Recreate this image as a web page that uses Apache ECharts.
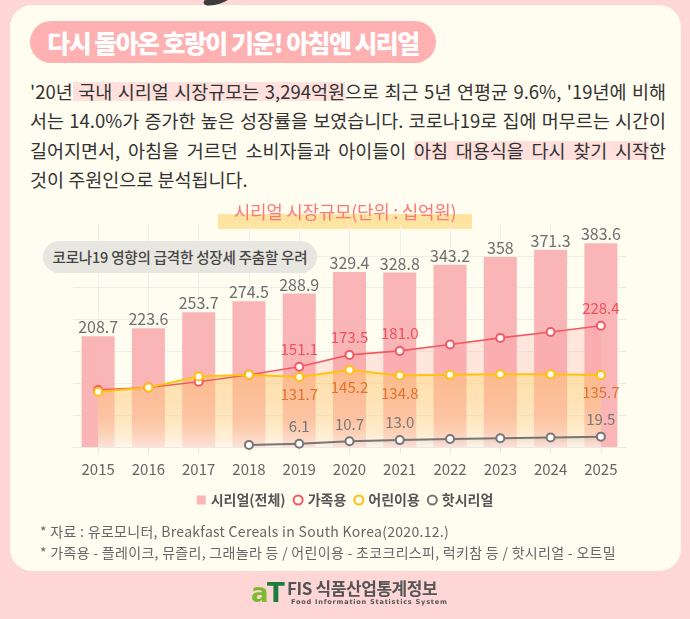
<!DOCTYPE html>
<html><head><meta charset="utf-8">
<script src="https://cdn.jsdelivr.net/npm/echarts@6/dist/echarts.min.js"></script>
<style>
html,body{margin:0;padding:0}
body{width:690px;height:619px;background:#FFD6D6;position:relative;overflow:hidden;font-family:'Noto Sans CJK KR','Noto Sans',sans-serif}
.abs{position:absolute}
#card{left:10px;top:5px;width:671px;height:566px;background:#FFFCF0;border-radius:22px}
#deco{left:203px;top:-7px;width:30px;height:11px;background:#3d3d3d;border-radius:50%;transform:rotate(-18deg)}
#title{left:30px;top:21px;width:406px;height:42px;background:#FFB0B0;border-radius:21px;color:#fff;font-size:25px;font-weight:900;line-height:42px;text-align:center;letter-spacing:-1.6px}
#para{left:30px;top:77px;width:636px;font-size:18.5px;color:#333;letter-spacing:0px}
#para .ln{height:29.4px;line-height:29.4px;text-align:justify;text-align-last:justify;white-space:nowrap}
#para .ln.last{text-align-last:left}
.hl{background:linear-gradient(transparent 17%,#FFE0DC 17%,#FFE0DC 87%,transparent 87%)}
#ctbar{left:218px;top:214px;width:254px;height:15px;background:#FFE3A0}
#ctitle{left:190px;top:199px;width:310px;text-align:center;font-size:18px;color:#FF7878;line-height:24px;letter-spacing:-0.3px}
#chart{left:0;top:0;width:690px;height:619px}
#pill{left:43px;top:241px;width:274px;height:32px;background:#E8E6E1;border-radius:16px;font-size:14.5px;color:#444;line-height:32px;text-align:center;font-weight:500;letter-spacing:-0.2px}
.fn{left:40px;font-size:14px;color:#666;letter-spacing:0.3px;line-height:18px}
#logoA{left:251px;top:580px;font-size:26px;font-weight:900;line-height:27px;letter-spacing:-1.5px;font-family:'DejaVu Sans','Noto Sans',sans-serif}
#logoMain{left:287px;top:577px;font-size:17px;color:#555;font-weight:700;line-height:22px;letter-spacing:-0.4px}
#logoSub{left:291px;top:598px;font-size:6.6px;color:#555;font-weight:700;line-height:9px;letter-spacing:0.75px;font-family:'DejaVu Sans',sans-serif}
</style></head>
<body>
<div id="card" class="abs"></div>
<div id="deco" class="abs"></div>
<div id="title" class="abs">다시 돌아온 호랑이 기운! 아침엔 시리얼</div>
<div id="para" class="abs">
  <div class="ln">'20년<span class="hl"> 국내 시리얼 시장규모는 3,294억원</span>으로 최근 5년 연평균 9.6%, '19년에 비해</div>
  <div class="ln">서는 14.0%가 증가한 높은 성장률을 보였습니다. 코로나19로 집에 머무르는 시간이</div>
  <div class="ln">길어지면서, 아침을 거르던 소비자들과 아이들이 <span class="hl">아침 대용식을 다시 찾기 시작</span>한</div>
  <div class="ln last">것이 주원인으로 분석됩니다.</div>
</div>
<div id="ctbar" class="abs"></div>
<div id="chart" class="abs"></div>
<div id="ctitle" class="abs">시리얼 시장규모(단위 : 십억원)</div>
<div id="pill" class="abs">코로나19 영향의 급격한 성장세 주춤할 우려</div>
<div class="abs fn" style="top:522px">* 자료 : 유로모니터, Breakfast Cereals in South Korea(2020.12.)</div>
<div class="abs fn" style="top:543px">* 가족용 - 플레이크, 뮤즐리, 그래놀라 등 / 어린이용 - 초코크리스피, 럭키참 등 / 핫시리얼 - 오트밀</div>
<div id="logoA" class="abs"><span style="color:#7CBB2E">a</span><span style="color:#1E7B38">T</span></div>
<div id="logoMain" class="abs">FIS 식품산업통계정보</div>
<div id="logoSub" class="abs">Food Information Statistics System</div>
<script>
const years = ['2015','2016','2017','2018','2019','2020','2021','2022','2023','2024','2025'];
const totalMarket = [208.7,223.6,253.7,274.5,288.9,329.4,328.8,343.2,358,371.3,383.6];
const familyCereal = [107.5,112,123,136,151.1,173.5,181.0,193,205.5,216.5,228.4];
const kidsCereal = [104,112,133,136,131.7,145.2,134.8,136,137,137,135.7];
const hotCereal = [null,null,null,4.0,6.1,10.7,13.0,15.0,16.5,18.0,19.5];
const labeledYears = ['2019','2020','2021','2025'];
const seriesNames = ['시리얼(전체)','가족용','어린이용','핫시리얼'];
const yMin = 0, yMax = 420, yStep = 60;

const FONT = "'Noto Sans CJK KR', sans-serif";
const C = {bar:'#FAB5B6', fam:'#F25A62', kid:'#FFC20E', hot:'#767676'};
const lineLabel = (color, pos) => ({
  show:true, position:pos, distance:5, color:color, fontSize:15, fontFamily:FONT,
  formatter: p => labeledYears.includes(p.name) && p.value != null ? Number(p.value).toFixed(1) : ''
});
const marker = color => ({color:'#fff', borderColor:color, borderWidth:2});
const gridLineCount = (yMax - yMin) / yStep + 1;
const hColors = [];
for (let i = 0; i < gridLineCount; i++) hColors.push(i === gridLineCount - 1 ? 'rgba(0,0,0,0)' : '#EFEDE6');

const chart = echarts.init(document.getElementById('chart'), null, {renderer:'canvas'});
chart.setOption({
  backgroundColor:'transparent',
  animation:false,
  textStyle:{fontFamily:FONT},
  grid:{left:73, top:224, width:553, height:223},
  legend:{
    top:488, left:'center', itemWidth:9, itemHeight:9, itemGap:7,
    textStyle:{fontSize:14, fontWeight:'bold', color:'#555', fontFamily:FONT},
    data:[
      {name:seriesNames[0], icon:'rect', itemStyle:{color:C.bar}},
      {name:seriesNames[1], icon:'circle', itemStyle:{color:'rgba(0,0,0,0)', borderColor:C.fam, borderWidth:2}},
      {name:seriesNames[2], icon:'circle', itemStyle:{color:'rgba(0,0,0,0)', borderColor:C.kid, borderWidth:2}},
      {name:seriesNames[3], icon:'circle', itemStyle:{color:'rgba(0,0,0,0)', borderColor:C.hot, borderWidth:2}}
    ]
  },
  xAxis:{
    type:'category', data:years, boundaryGap:true,
    axisLine:{lineStyle:{color:'#ECEAE3'}},
    axisTick:{show:true, alignWithLabel:true, length:6, lineStyle:{color:'#E6E4DD'}},
    splitLine:{show:true, alignWithLabel:true, lineStyle:{color:'#F1EFE9'}},
    axisLabel:{color:'#666', fontSize:15, margin:15, fontFamily:FONT}
  },
  yAxis:{
    type:'value', min:yMin, max:yMax, interval:yStep,
    axisLabel:{show:false}, axisLine:{show:false}, axisTick:{show:false},
    splitLine:{lineStyle:{color:hColors}}
  },
  series:[
    {name:seriesNames[0], type:'bar', data:totalMarket, barWidth:33,
     itemStyle:{color:C.bar},
     label:{show:true, position:'top', distance:1, color:'#6E6E6E', fontSize:16, fontFamily:FONT, formatter:p=>String(p.value)}},
    {name:seriesNames[1], type:'line', data:familyCereal, symbol:'circle', symbolSize:8,
     lineStyle:{color:C.fam, width:1.6}, itemStyle:marker(C.fam),
     areaStyle:{color:'rgba(255,150,150,0.3)'},
     label:lineLabel('#F0505A','top')},
    {name:seriesNames[2], type:'line', data:kidsCereal, symbol:'circle', symbolSize:8,
     lineStyle:{color:C.kid, width:2}, itemStyle:marker(C.kid),
     areaStyle:{color:{type:'linear', x:0, y:0, x2:0, y2:1, colorStops:[
       {offset:0, color:'rgba(255,205,80,0.55)'},
       {offset:0.6, color:'rgba(255,230,135,0.5)'},
       {offset:1, color:'rgba(255,253,242,0.93)'}]}},
     label:lineLabel('#E5722B','bottom')},
    {name:seriesNames[3], type:'line', data:hotCereal, symbol:'circle', symbolSize:8,
     lineStyle:{color:C.hot, width:2}, itemStyle:marker(C.hot),
     areaStyle:{color:{type:'linear', x:0, y:0, x2:0, y2:1, colorStops:[
       {offset:0, color:'rgba(120,120,120,0.22)'},
       {offset:1, color:'rgba(200,200,200,0.05)'}]}},
     label:lineLabel('#777','top')}
  ]
});
</script>
</body></html>
